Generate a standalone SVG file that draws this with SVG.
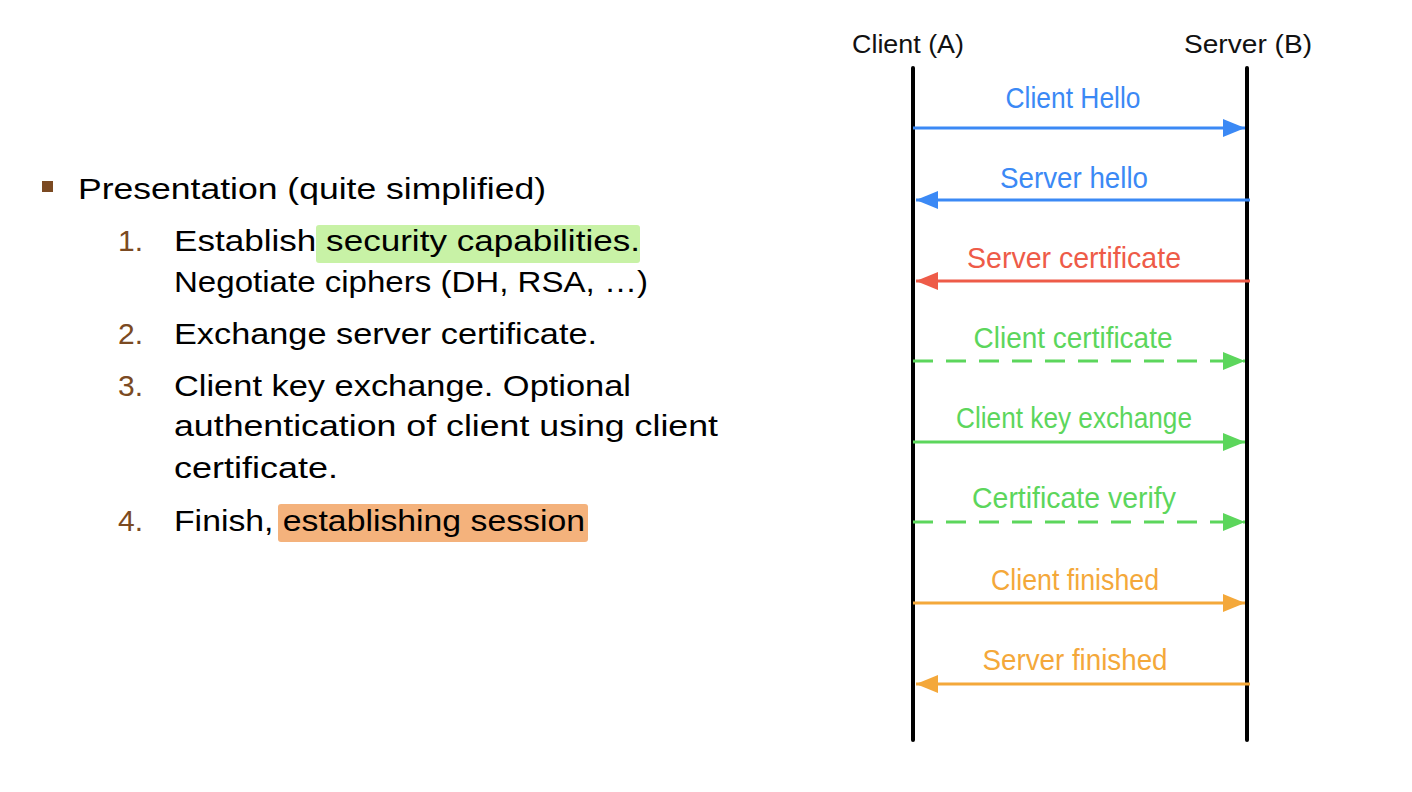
<svg xmlns="http://www.w3.org/2000/svg" width="1412" height="792" viewBox="0 0 1412 792">
<style>
.body{font-family:"Liberation Sans",Arial,sans-serif;font-size:30px;fill:#000}
.num{font-family:"Liberation Sans",Arial,sans-serif;font-size:30px;fill:#7b4a22}
.hdr{font-family:"Liberation Sans",Arial,sans-serif;font-size:26px;fill:#111}
.lbl{font-family:"Liberation Sans",Arial,sans-serif;font-size:30px;text-anchor:middle}
.life{stroke:#000;stroke-width:4;stroke-linecap:round}
.msg{stroke-width:3;fill:none}
.dash{stroke-dasharray:20 13}
.blue{stroke:#3b89f5}.red{stroke:#ee5b48}.green{stroke:#5cd65c}.orange{stroke:#f4a83a}
.tblue{fill:#3b89f5}.tred{fill:#ee5b48}.tgreen{fill:#5cd65c}.torange{fill:#f4a83a}
</style>
<defs>
<marker id="hb" markerUnits="userSpaceOnUse" markerWidth="22" markerHeight="18" refX="22" refY="9" orient="auto"><path d="M0,0 L22,9 L0,18 z" fill="#3b89f5"/></marker>
<marker id="hr" markerUnits="userSpaceOnUse" markerWidth="22" markerHeight="18" refX="22" refY="9" orient="auto"><path d="M0,0 L22,9 L0,18 z" fill="#ee5b48"/></marker>
<marker id="hg" markerUnits="userSpaceOnUse" markerWidth="22" markerHeight="18" refX="22" refY="9" orient="auto"><path d="M0,0 L22,9 L0,18 z" fill="#5cd65c"/></marker>
<marker id="ho" markerUnits="userSpaceOnUse" markerWidth="22" markerHeight="18" refX="22" refY="9" orient="auto"><path d="M0,0 L22,9 L0,18 z" fill="#f4a83a"/></marker>
</defs>
<rect width="1412" height="792" fill="#fff"/>

<g id="bullet-text">
<rect x="42" y="181" width="11" height="11" fill="#7b4a22"/>
<text class="body" x="78" y="199" textLength="468" lengthAdjust="spacingAndGlyphs">Presentation (quite simplified)</text>
<rect x="316" y="225" width="324" height="38" rx="3" fill="#c8f2a6"/>
<rect x="278" y="504" width="310" height="38" rx="3" fill="#f4b27c"/>
<text class="num" x="118" y="251">1.</text>
<text class="body" x="174" y="251" textLength="466" lengthAdjust="spacingAndGlyphs">Establish security capabilities.</text>
<text class="body" x="174" y="292" textLength="474" lengthAdjust="spacingAndGlyphs">Negotiate ciphers (DH, RSA, …)</text>
<text class="num" x="118" y="344">2.</text>
<text class="body" x="174" y="344" textLength="423" lengthAdjust="spacingAndGlyphs">Exchange server certificate.</text>
<text class="num" x="118" y="396">3.</text>
<text class="body" x="174" y="396" textLength="457" lengthAdjust="spacingAndGlyphs">Client key exchange. Optional</text>
<text class="body" x="174" y="436" textLength="544" lengthAdjust="spacingAndGlyphs">authentication of client using client</text>
<text class="body" x="174" y="478" textLength="164" lengthAdjust="spacingAndGlyphs">certificate.</text>
<text class="num" x="118" y="531">4.</text>
<text class="body" x="174" y="531" textLength="411" lengthAdjust="spacingAndGlyphs">Finish, establishing session</text>
</g>

<g id="client">
<text class="hdr" x="852" y="53" textLength="112" lengthAdjust="spacingAndGlyphs">Client (A)</text>
<line class="life" x1="913" y1="68" x2="913" y2="740"/>
</g>
<g id="server">
<text class="hdr" x="1184" y="53" textLength="128" lengthAdjust="spacingAndGlyphs">Server (B)</text>
<line class="life" x1="1247" y1="68" x2="1247" y2="740"/>
</g>

<g id="connectors">
<line class="msg blue" x1="913" y1="128" x2="1245" y2="128" marker-end="url(#hb)"/>
<text class="lbl tblue" x="1073" y="108" textLength="135" lengthAdjust="spacingAndGlyphs">Client Hello</text>
<line class="msg blue" x1="1250" y1="200" x2="916" y2="200" marker-end="url(#hb)"/>
<text class="lbl tblue" x="1074" y="188" textLength="148" lengthAdjust="spacingAndGlyphs">Server hello</text>
<line class="msg red" x1="1250" y1="281" x2="916" y2="281" marker-end="url(#hr)"/>
<text class="lbl tred" x="1074" y="268" textLength="214" lengthAdjust="spacingAndGlyphs">Server certificate</text>
<line class="msg green dash" x1="913" y1="361" x2="1245" y2="361" marker-end="url(#hg)"/>
<text class="lbl tgreen" x="1073" y="348" textLength="199" lengthAdjust="spacingAndGlyphs">Client certificate</text>
<line class="msg green" x1="913" y1="442" x2="1245" y2="442" marker-end="url(#hg)"/>
<text class="lbl tgreen" x="1074" y="428" textLength="236" lengthAdjust="spacingAndGlyphs">Client key exchange</text>
<line class="msg green dash" x1="913" y1="522" x2="1245" y2="522" marker-end="url(#hg)"/>
<text class="lbl tgreen" x="1074" y="508" textLength="204" lengthAdjust="spacingAndGlyphs">Certificate verify</text>
<line class="msg orange" x1="913" y1="603" x2="1245" y2="603" marker-end="url(#ho)"/>
<text class="lbl torange" x="1075" y="590" textLength="168" lengthAdjust="spacingAndGlyphs">Client finished</text>
<line class="msg orange" x1="1250" y1="684" x2="916" y2="684" marker-end="url(#ho)"/>
<text class="lbl torange" x="1075" y="670" textLength="185" lengthAdjust="spacingAndGlyphs">Server finished</text>
</g>
</svg>
